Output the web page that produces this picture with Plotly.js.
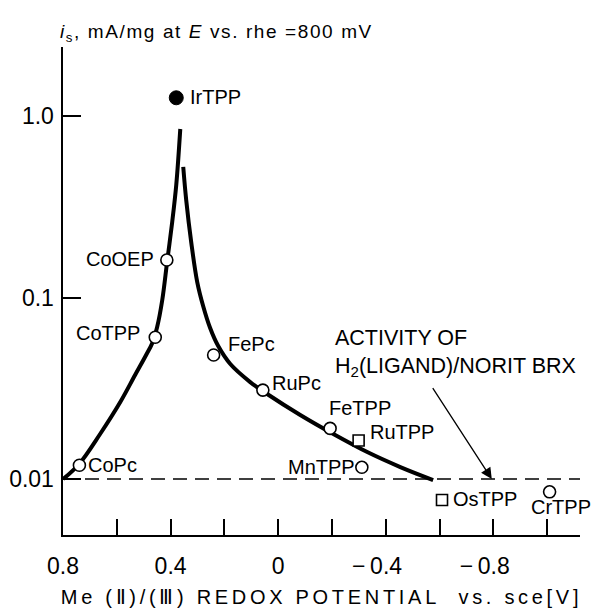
<!DOCTYPE html>
<html>
<head>
<meta charset="utf-8">
<script src="https://cdn.plot.ly/plotly-3.0.1.min.js"></script>
<style>
html,body{margin:0;padding:0;background:#fff;}
.xtitle{letter-spacing:3.7px;}
.gtitle{letter-spacing:1.6px;}
</style>
</head>
<body>
<div id="chart" style="width:593px;height:611px;"></div>
<script>
// ---- data ----
// redox potential (V vs. SCE) and activity i_s (mA/mg)
const filledNames = ['IrTPP'];
const filledX = [0.379];
const filledY = [1.26];

const circleNames = ['CoOEP', 'CoTPP', 'FePc', 'RuPc', 'FeTPP', 'MnTPP', 'CoPc', 'CrTPP'];
const circleX = [0.414, 0.457, 0.240, 0.057, -0.193, -0.311, 0.739, -1.009];
const circleY = [0.161, 0.0604, 0.0482, 0.0309, 0.0190, 0.0116, 0.0119, 0.0085];

const squareNames = ['RuTPP', 'OsTPP'];
const squareX = [-0.299, -0.609];
const squareY = [0.0163, 0.00766];

// volcano curve, left (ascending) branch
const leftCurveX = [0.799, 0.740, 0.662, 0.587, 0.532, 0.491, 0.468, 0.450, 0.431, 0.413, 0.394, 0.379, 0.364];
const leftCurveY = [0.0100, 0.0121, 0.0177, 0.02655, 0.0374, 0.0482, 0.0562, 0.0688, 0.0969, 0.157, 0.261, 0.417, 0.848];
// volcano curve, right (descending) branch
const rightCurveX = [0.353, 0.342, 0.323, 0.301, 0.279, 0.253, 0.223, 0.178, 0.104, 0.041, -0.082, -0.205, -0.331, -0.454, -0.576];
const rightCurveY = [0.524, 0.3445, 0.200, 0.1217, 0.0898, 0.0679, 0.0540, 0.0430, 0.0342, 0.0294, 0.02253, 0.0177, 0.01408, 0.01164, 0.00987];

// activity of H2(ligand)/Norit BRX
const baselineActivity = 0.01;
const arrowFromX = -0.571, arrowFromY = 0.0323;
const arrowToX = -0.794;

// axis ticks
const xTickVals = [0.8, 0.6, 0.4, 0.2, 0, -0.2, -0.4, -0.6, -0.8, -1.0];
const xTickText = ['0.8', '', '0.4', '', '0', '', '\u2212\u20090.4\u2007\u2009', '', '\u2212\u20090.8\u2007\u2009', ''];
const yTickVals = [0.01, 0.1, 1];
const yTickText = ['0.01', '0.1', '1.0'];

// ---- presentation ----
const FONT = 'Liberation Sans, Arial, Helvetica, sans-serif';
const xRange = [0.8, -1.122];
const yRange = [-2.3085, 0.3802];

const labelStyle = {
  IrTPP: {xanchor: 'left', xshift: 12, yshift: 1},
  CoOEP: {xanchor: 'right', xshift: -11, yshift: 1},
  CoTPP: {xanchor: 'right', xshift: -13, yshift: 4},
  FePc:  {xanchor: 'left', xshift: 12, yshift: 11},
  RuPc:  {xanchor: 'left', xshift: 7, yshift: 7},
  FeTPP: {xanchor: 'left', xshift: -3, yshift: 20},
  RuTPP: {xanchor: 'left', xshift: 9, yshift: 9},
  MnTPP: {xanchor: 'right', xshift: -5, yshift: 0},
  CoPc:  {xanchor: 'left', xshift: 7, yshift: 0},
  OsTPP: {xanchor: 'left', xshift: 9, yshift: 1},
  CrTPP: {xanchor: 'center', xshift: 11, yshift: -15}
};

const traces = [
  {x: [xRange[0], xRange[1]], y: [baselineActivity, baselineActivity], mode: 'lines',
   line: {color: '#000', width: 1.6, dash: '14px,8px'}, hoverinfo: 'skip'},
  {x: leftCurveX, y: leftCurveY, mode: 'lines', line: {color: '#000', width: 4, shape: 'spline', smoothing: 1}},
  {x: rightCurveX, y: rightCurveY, mode: 'lines', line: {color: '#000', width: 4, shape: 'spline', smoothing: 1}},
  {x: circleX, y: circleY, mode: 'markers', text: circleNames,
   marker: {symbol: 'circle', size: 12, color: '#fff', line: {color: '#000', width: 1.6}}},
  {x: squareX, y: squareY, mode: 'markers', text: squareNames,
   marker: {symbol: 'square', size: 11, color: '#fff', line: {color: '#000', width: 1.6}}},
  {x: filledX, y: filledY, mode: 'markers', text: filledNames,
   marker: {symbol: 'circle', size: 14, color: '#000', line: {color: '#000', width: 1}}}
];

const annotations = [];
function addLabels(names, xs, ys) {
  names.forEach((n, i) => {
    const s = labelStyle[n];
    annotations.push({
      x: xs[i], y: Math.log10(ys[i]), xref: 'x', yref: 'y', text: n, showarrow: false,
      xanchor: s.xanchor, yanchor: 'middle', xshift: s.xshift, yshift: s.yshift,
      font: {family: FONT, size: 20, color: '#000'}
    });
  });
}
addLabels(filledNames, filledX, filledY);
addLabels(circleNames, circleX, circleY);
addLabels(squareNames, squareX, squareY);

annotations.push({
  x: 0.5222, y: 0.372, xref: 'paper', yref: 'paper', xanchor: 'left', yanchor: 'middle',
  text: 'ACTIVITY OF<br>H<sub>2</sub>(LIGAND)/NORIT BRX', align: 'left', showarrow: false,
  font: {family: FONT, size: 21.5, color: '#000'}
});
annotations.push({
  x: arrowToX, y: Math.log10(baselineActivity), xref: 'x', yref: 'y',
  ax: arrowFromX, ay: Math.log10(arrowFromY), axref: 'x', ayref: 'y',
  text: '', showarrow: true, arrowhead: 2, arrowsize: 1.7, arrowwidth: 1.3, arrowcolor: '#000', standoff: 0
});

const layout = {
  width: 593, height: 611,
  margin: {l: 63, r: 13, t: 47, b: 76},
  paper_bgcolor: '#fff', plot_bgcolor: '#fff',
  showlegend: false,
  font: {family: FONT, color: '#000'},
  title: {
    text: '<i>i</i><sub>s</sub>, mA/mg at <i>E</i> vs. rhe =800 mV',
    font: {family: FONT, size: 19, color: '#000'},
    xref: 'container', yref: 'container', x: 60 / 593, xanchor: 'left', y: 1 - 31 / 611, yanchor: 'middle'
  },
  xaxis: {
    range: xRange, tickmode: 'array', tickvals: xTickVals, ticktext: xTickText,
    ticks: 'inside', ticklen: 16, tickwidth: 2, tickcolor: '#000',
    showline: true, linewidth: 2, linecolor: '#000', showgrid: false, zeroline: false,
    tickfont: {family: FONT, size: 23, color: '#000'}, ticklabelstandoff: 9,
    automargin: false,
    title: {
      text: 'Me (\u2161)/(\u2162) REDOX POTENTIAL\u00a0\u00a0vs. sce[V]',
      font: {family: FONT, size: 20, color: '#000'}, standoff: 12
    }
  },
  yaxis: {
    type: 'log', range: yRange, tickmode: 'array', tickvals: yTickVals, ticktext: yTickText,
    ticks: 'inside', ticklen: 18, tickwidth: 2, tickcolor: '#000',
    showline: true, linewidth: 2.5, linecolor: '#000', showgrid: false, zeroline: false,
    tickfont: {family: FONT, size: 23, color: '#000'}, ticklabelstandoff: 2,
    automargin: false
  },
  annotations: annotations
};

Plotly.newPlot('chart', traces, layout, {displayModeBar: false, staticPlot: true});
</script>
</body>
</html>
